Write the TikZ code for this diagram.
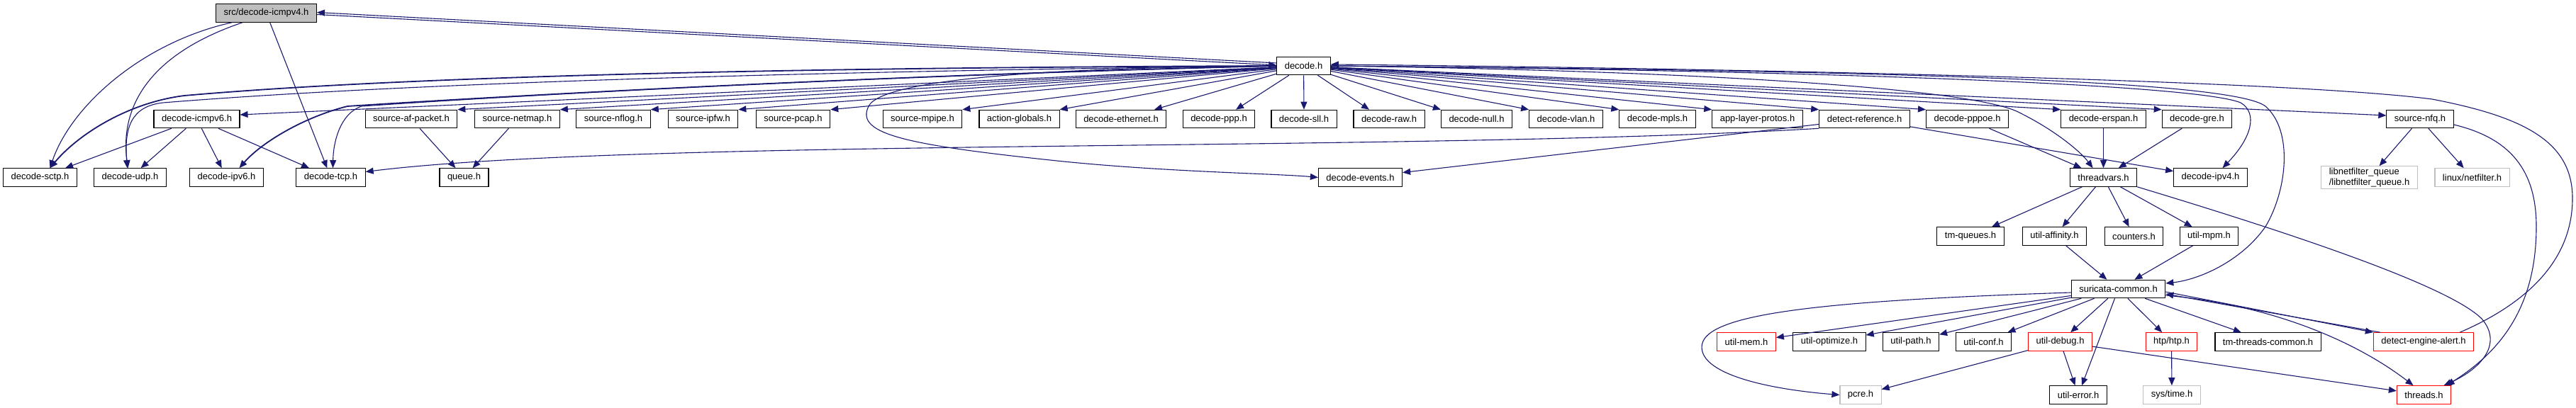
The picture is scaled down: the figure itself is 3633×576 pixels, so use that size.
\documentclass[tikz,border=0pt]{standalone}
\usepackage{fontspec}
\setmainfont{Liberation Sans}
\usetikzlibrary{arrows.meta,calc}
\definecolor{edgec}{HTML}{191970}
\definecolor{rootfill}{HTML}{BFBFBF}
\definecolor{graybd}{HTML}{BFBFBF}
\definecolor{redbd}{HTML}{FF0000}
\begin{document}
\begin{tikzpicture}[x=0.5pt,y=-0.5pt,
  nd/.style={draw=black, line width=0.55pt, fill=white, font=\fontsize{6.5}{7.6}\selectfont,
    inner xsep=5.5pt, inner ysep=1pt, minimum height=12.75pt, anchor=center},
  rootnd/.style={nd, fill=rootfill},
  rednd/.style={nd, draw=redbd},
  extnd/.style={nd, draw=graybd},
  edg/.style={draw=edgec, line width=0.55pt, -{Triangle[length=5.5pt,width=4.5pt]}},
  thk/.style={line width=0.9pt}]
\useasboundingbox (0,0) rectangle (3633,576);
% row 0/1
\node[rootnd] (icmpv4) at (375.5,18.5) {src/decode-icmpv4.h};
\node[nd] (decode) at (1838.5,93) {decode.h};
% row 2
\node[nd] (icmpv6) at (277.5,168) {decode-icmpv6.h};
\node[nd] (afpacket) at (580,168) {source-af-packet.h};
\node[nd] (netmap) at (729.5,168) {source-netmap.h};
\node[nd] (nflog) at (865,168) {source-nflog.h};
\node[nd] (ipfw) at (991.5,168) {source-ipfw.h};
\node[nd] (pcap) at (1118.5,168) {source-pcap.h};
\node[nd] (mpipe) at (1301,168) {source-mpipe.h};
\node[nd] (actglob) at (1437.5,168) {action-globals.h};
\node[nd] (ethernet) at (1581,168) {decode-ethernet.h};
\node[nd] (ppp) at (1719,168) {decode-ppp.h};
\node[nd] (sll) at (1839,168) {decode-sll.h};
\node[nd] (raw) at (1959,168) {decode-raw.h};
\node[nd] (null) at (2082.5,168) {decode-null.h};
\node[nd] (vlan) at (2208.5,168) {decode-vlan.h};
\node[nd] (mpls) at (2337.5,168) {decode-mpls.h};
\node[nd] (alproto) at (2478.5,168) {app-layer-protos.h};
\node[nd] (detref) at (2629.5,168) {detect-reference.h};
\node[nd] (pppoe) at (2774.5,168) {decode-pppoe.h};
\node[nd] (erspan) at (2966.5,168) {decode-erspan.h};
\node[nd] (gre) at (3098.5,168) {decode-gre.h};
\node[nd] (nfq) at (3413,168) {source-nfq.h};
% row 3
\node[nd] (sctp) at (56.5,250.5) {decode-sctp.h};
\node[nd] (udp) at (183.5,250.5) {decode-udp.h};
\node[nd] (ipv6) at (319.5,250.5) {decode-ipv6.h};
\node[nd] (tcp) at (466.5,250.5) {decode-tcp.h};
\node[nd] (queue) at (654.5,250.5) {queue.h};
\node[nd] (events) at (1918.5,250.5) {decode-events.h};
\node[nd] (threadvars) at (2966.5,250.5) {threadvars.h};
\node[nd] (ipv4) at (3117.5,250.5) {decode-ipv4.h};
\node[extnd, align=left] (libnf) at (3341.5,250.5) {libnetfilter\_queue\\/libnetfilter\_queue.h};
\node[extnd] (linuxnf) at (3486.5,250.5) {linux/netfilter.h};
% row 4
\node[nd] (tmqueues) at (2779,333.5) {tm-queues.h};
\node[nd] (affinity) at (2897.5,333.5) {util-affinity.h};
\node[nd] (counters) at (3009.5,333.5) {counters.h};
\node[nd] (mpm) at (3115.5,333.5) {util-mpm.h};
% row 5
\node[nd] (sc) at (2987.5,408) {suricata-common.h};
% row 6
\node[rednd] (utilmem) at (2463,482.5) {util-mem.h};
\node[nd] (optimize) at (2580,482.5) {util-optimize.h};
\node[nd] (path) at (2695,482.5) {util-path.h};
\node[nd] (conf) at (2797.5,482.5) {util-conf.h};
\node[rednd] (debug) at (2905.5,482.5) {util-debug.h};
\node[rednd] (htp) at (3062.5,482.5) {htp/htp.h};
\node[nd] (tmthreads) at (3198.5,482.5) {tm-threads-common.h};
\node[rednd] (dealert) at (3418,482.5) {detect-engine-alert.h};
% row 7
\node[extnd] (pcre) at (2624,557.5) {pcre.h};
\node[nd] (utilerror) at (2931,557.5) {util-error.h};
\node[extnd] (systime) at (3063,557.5) {sys/time.h};
\node[rednd] (threads) at (3418.5,557.5) {threads.h};

% ---- edges from src/decode-icmpv4.h
\draw[edg] ($(icmpv4.east)+(0,2)$) -- ($(decode.west)+(0,-1)$);
\draw[edg] ($(decode.west)+(0,-4)$) -- ($(icmpv4.east)+(0,-1)$);
\draw[edg] ($(icmpv4.south west)+(23,0)$) .. controls (200,60) and (100,150) .. ($(sctp.north)+(14,0)$);
\draw[edg] ($(icmpv4.south west)+(38,0)$) .. controls (200,80) and (170,160) .. ($(udp.north)+(-3,0)$);
\draw[edg] (icmpv4) -- (tcp);

% ---- edges from decode.h, curved ones to the left
\draw[edg,thk] (decode.west) .. controls (1200,95) and (600,105) .. (260,135) .. controls (180,145) and (110,190) .. ($(sctp.north)+(14,0)$);
\draw[edg] (decode.west) .. controls (1200,100) and (600,115) .. (230,145) .. controls (185,150) and (175,180) .. ($(udp.north)+(-4,0)$);
\draw[edg,thk] (decode.west) .. controls (1300,105) and (800,130) .. (490,150) .. controls (430,165) and (370,200) .. ($(ipv6.north)+(18,0)$);
\draw[edg] (decode.west) .. controls (1300,105) and (800,130) .. (510,150) .. controls (480,160) and (470,200) .. ($(tcp.north)+(3,0)$);
\draw[edg] (decode.west) .. controls (1500,95) and (1245,110) .. (1225,150) .. controls (1205,190) and (1280,205) .. (1500,228) .. controls (1650,243) and (1800,245) .. (events.west);
% straight ones to row 2
\draw[edg] (decode) -- ($(icmpv6.east)+(0,-6)$);
\foreach \t in {afpacket,netmap,nflog,ipfw,pcap,mpipe,actglob}
  \draw[edg] (decode) -- (\t.north east);
\draw[edg] (decode) -- ($(ethernet.north)+(47,0)$);
\draw[edg] (decode) -- ($(ppp.north)+(24,0)$);
\draw[edg] (decode) -- (sll.north);
\draw[edg] (decode) -- ($(raw.north)+(-28,0)$);
\foreach \t in {null,vlan,mpls,alproto,detref,pppoe,erspan,gre}
  \draw[edg] (decode) -- (\t.north west);
\draw[edg] (decode) -- ($(nfq.west)+(0,-5)$);
% curved ones to the right
\draw[edg] (decode.east) .. controls (2400,100) and (2790,125) .. (2850,160) .. controls (2900,185) and (2935,215) .. ($(threadvars.north)+(-15,0)$);
\draw[edg] (decode.east) .. controls (2600,100) and (3100,120) .. (3160,145) .. controls (3185,160) and (3175,195) .. ($(ipv4.north)+(17,0)$);
\draw[edg] (decode.east) .. controls (2700,100) and (3150,115) .. (3195,150) .. controls (3235,185) and (3225,270) .. (3195,320) .. controls (3160,370) and (3100,395) .. ($(sc.east)+(0,-8)$);
\draw[edg] ($(dealert.north east)+(-20,0)$) .. controls (3560,430) and (3628,370) .. (3628,280) .. controls (3628,200) and (3560,165) .. (3430,140) .. controls (3200,110) and (2300,95) .. ($(decode.east)+(0,-2)$);

% ---- decode-icmpv6.h
\foreach \t in {sctp,udp,ipv6,tcp}
  \draw[edg] (icmpv6) -- (\t);
% ---- sources
\draw[edg] (afpacket) -- (queue);
\draw[edg] (netmap) -- (queue);
\draw[edg] (nfq) -- (libnf);
\draw[edg] (nfq) -- (linuxnf);
\draw[edg] ($(nfq.east)+(0,8)$) .. controls (3540,195) and (3577,240) .. (3577,320) .. controls (3577,440) and (3520,500) .. ($(threads.north)+(32,0)$);
% ---- detect-reference.h
\draw[edg] (detref.south west) .. controls (2000,215) and (900,195) .. ($(tcp.east)+(0,-8)$);
\draw[edg] (detref) -- (events);
\draw[edg] (detref) -- (ipv4);
% ---- into threadvars.h
\draw[edg] (pppoe) -- (threadvars);
\draw[edg] (erspan) -- (threadvars);
\draw[edg] (gre) -- (threadvars);
% ---- threadvars.h
\foreach \t in {tmqueues,affinity,counters,mpm}
  \draw[edg] (threadvars) -- (\t);
\draw[edg] (threadvars.south east) .. controls (3200,320) and (3450,400) .. (3500,450) .. controls (3530,485) and (3500,520) .. ($(threads.north)+(28,0)$);
\draw[edg] (affinity) -- (sc);
\draw[edg] (mpm) -- (sc);
% ---- suricata-common.h
\draw[edg] ($(sc.west)+(0,5)$) .. controls (2550,425) and (2400,445) .. (2400,490) .. controls (2400,530) and (2500,550) .. (pcre.west);
\foreach \t in {utilmem,optimize,path,conf,debug,utilerror,htp,tmthreads}
  \draw[edg] (sc) -- (\t);
\draw[edg] ($(sc.east)+(0,4)$) -- (dealert.north west);
\draw[edg] ($(dealert.north west)+(10,0)$) -- ($(sc.east)+(0,7)$);
\draw[edg] ($(sc.east)+(0,9)$) .. controls (3200,430) and (3320,480) .. ($(threads.north)+(-15,0)$);
% ---- util-debug.h, htp
\draw[edg] (debug) -- (pcre);
\draw[edg] (debug) -- (utilerror);
\draw[edg] (debug) -- (threads);
\draw[edg] (htp) -- (systime);
\end{tikzpicture}
\end{document}
